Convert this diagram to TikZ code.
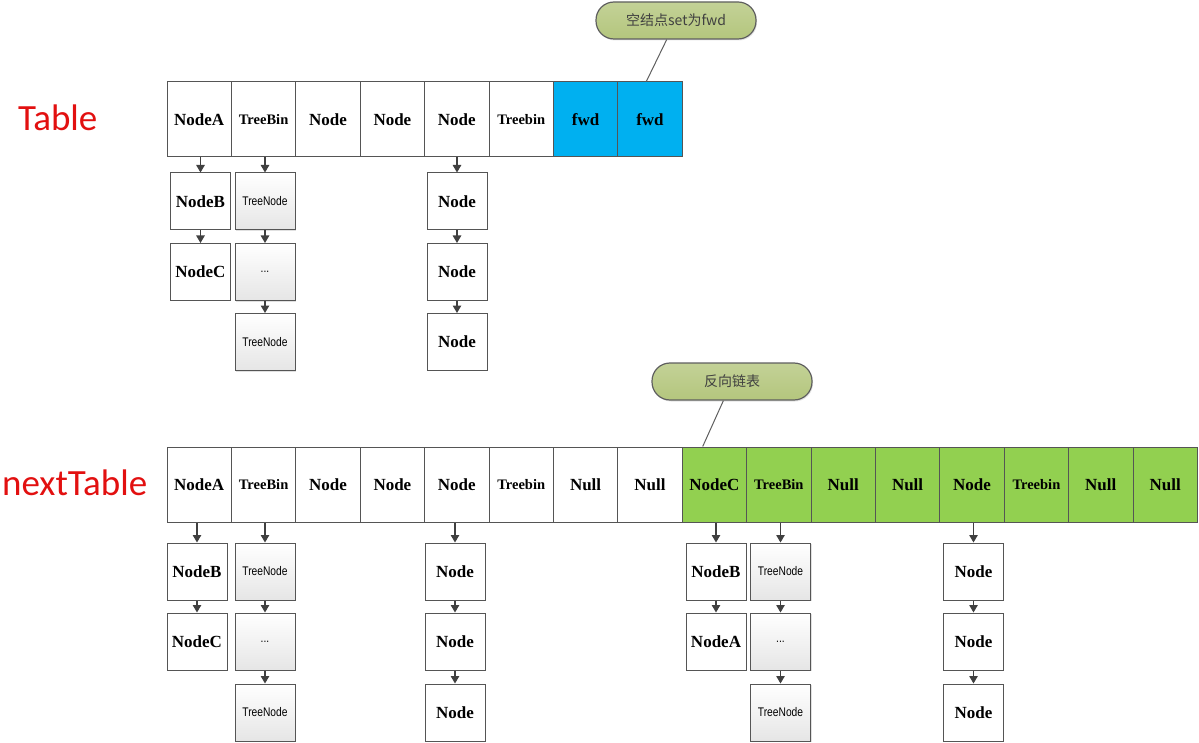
\documentclass[tikz,border=0pt]{standalone}
\usepackage{fontspec}
\setmainfont{Liberation Serif}
\newfontfamily\capfont{Carlito}
\newfontfamily\cjkfont{Noto Sans CJK SC}
\newfontfamily\treefont[FakeStretch=0.82]{Liberation Sans}
\usetikzlibrary{shadows,arrows.meta,calc}
\definecolor{fwdblue}{RGB}{0,176,240}
\definecolor{movedgreen}{RGB}{146,208,80}
\definecolor{noteolive}{RGB}{180,198,125}
\definecolor{noteedge}{RGB}{95,95,95}
\definecolor{celledge}{RGB}{85,85,85}
\definecolor{labelred}{RGB}{226,16,16}

\begin{document}
\begin{tikzpicture}[x=1pt,y=-1pt,
    cell/.style={draw=celledge,line width=1pt,minimum width=64.4pt,minimum height=75pt,inner sep=0pt},
    listnode/.style={draw=celledge,line width=1pt,fill=white,minimum width=60pt,minimum height=57pt,inner sep=0pt,font=\fontsize{17}{17}\selectfont\bfseries},
    treenode/.style={listnode,top color=white,bottom color=gray!20,drop shadow={shadow xshift=1.2pt,shadow yshift=-1.2pt,fill=gray!60,opacity=0.4},font=\treefont\fontsize{12.5}{12.5}\selectfont},
    link/.style={-{Triangle[width=8.5pt,length=7.5pt]},line width=1.1pt,draw=black!75},
    note/.style={draw=noteedge,line width=1.2pt,rounded corners=18pt,top color=noteolive!80!white,bottom color=noteolive,minimum width=160pt,minimum height=37pt,text=black!75,font=\cjkfont\fontsize{14}{14}\selectfont,drop shadow={shadow xshift=1pt,shadow yshift=-1.5pt,fill=gray!60,opacity=0.35}},
    pin/.style={draw=noteedge,line width=1pt},
    tablename/.style={text=labelred,font=\capfont\fontsize{37}{37}\selectfont,anchor=base west,inner sep=0pt}]
    \useasboundingbox (0,0) rectangle (1199,743);

    %Table
    \node[tablename] (tablelabel) at (18,131) {Table};
    \foreach \lab/\fs/\col [count=\i] in {NodeA/17/white,TreeBin/14.5/white,Node/17/white,Node/17/white,
                                          Node/17/white,Treebin/14.5/white,fwd/17/fwdblue,fwd/17/fwdblue}
      \node[cell,fill=\col,font=\fontsize{\fs}{\fs}\selectfont\bfseries] (t\i) at ({167+(\i-0.5)*64.4},119.5) {\lab};

    \node[listnode] (ta1) at (200.5,201.5) {NodeB};
    \node[listnode] (ta2) at (200.5,272) {NodeC};
    \node[treenode] (tb1) at (265,201.5) {TreeNode};
    \node[treenode] (tb2) at (265,272) {...};
    \node[treenode] (tb3) at (265,342) {TreeNode};
    \node[listnode] (tc1) at (457,201.5) {Node};
    \node[listnode] (tc2) at (457,272) {Node};
    \node[listnode] (tc3) at (457,342) {Node};

    \draw[link] (t1.south -| ta1.north) -- (ta1.north);
    \draw[link] (ta1) -- (ta2);
    \draw[link] (t2.south -| tb1.north) -- (tb1.north);
    \draw[link] (tb1) -- (tb2);
    \draw[link] (tb2) -- (tb3);
    \draw[link] (t5.south -| tc1.north) -- (tc1.north);
    \draw[link] (tc1) -- (tc2);
    \draw[link] (tc2) -- (tc3);

    \node[note] (fwdnote) at (676,20.5) {空结点set为fwd};
    \coordinate (fwdpin) at ($(t8.north west)+(29,0)$);
    \draw[pin] (fwdnote) -- (fwdpin);

    %nextTable
    \node[tablename] (nextlabel) at (2,495) {nextTable};
    \foreach \lab/\fs/\col [count=\i] in {NodeA/17/white,TreeBin/14.5/white,Node/17/white,Node/17/white,
                                          Node/17/white,Treebin/14.5/white,Null/17/white,Null/17/white,
                                          NodeC/17/movedgreen,TreeBin/14.5/movedgreen,Null/17/movedgreen,Null/17/movedgreen,
                                          Node/17/movedgreen,Treebin/14.5/movedgreen,Null/17/movedgreen,Null/17/movedgreen}
      \node[cell,fill=\col,font=\fontsize{\fs}{\fs}\selectfont\bfseries] (n\i) at ({167+(\i-0.5)*64.4},484.5) {\lab};

    \node[listnode] (na1) at (197,571.5) {NodeB};
    \node[listnode] (na2) at (197,641.5) {NodeC};
    \node[treenode] (nb1) at (265,571.5) {TreeNode};
    \node[treenode] (nb2) at (265,641.5) {...};
    \node[treenode] (nb3) at (265,712.5) {TreeNode};
    \node[listnode] (nc1) at (455,571.5) {Node};
    \node[listnode] (nc2) at (455,641.5) {Node};
    \node[listnode] (nc3) at (455,712.5) {Node};

    \node[listnode] (nd1) at (716,571.5) {NodeB};
    \node[listnode] (nd2) at (716,641.5) {NodeA};
    \node[treenode] (ne1) at (780.5,571.5) {TreeNode};
    \node[treenode] (ne2) at (780.5,641.5) {...};
    \node[treenode] (ne3) at (780.5,712.5) {TreeNode};
    \node[listnode] (nf1) at (973.5,571.5) {Node};
    \node[listnode] (nf2) at (973.5,641.5) {Node};
    \node[listnode] (nf3) at (973.5,712.5) {Node};

    \draw[link] (n1.south -| na1.north) -- (na1.north);
    \draw[link] (na1) -- (na2);
    \draw[link] (n2.south -| nb1.north) -- (nb1.north);
    \draw[link] (nb1) -- (nb2);
    \draw[link] (nb2) -- (nb3);
    \draw[link] (n5.south -| nc1.north) -- (nc1.north);
    \draw[link] (nc1) -- (nc2);
    \draw[link] (nc2) -- (nc3);
    \draw[link] (n9.south -| nd1.north) -- (nd1.north);
    \draw[link] (nd1) -- (nd2);
    \draw[link] (n10.south -| ne1.north) -- (ne1.north);
    \draw[link] (ne1) -- (ne2);
    \draw[link] (ne2) -- (ne3);
    \draw[link] (n13.south -| nf1.north) -- (nf1.north);
    \draw[link] (nf1) -- (nf2);
    \draw[link] (nf2) -- (nf3);

    \node[note] (revnote) at (732,381.5) {反向链表};
    \coordinate (revpin) at ($(n9.north west)+(21,0)$);
    \draw[pin] (revnote) -- (revpin);
\end{tikzpicture}
\end{document}
